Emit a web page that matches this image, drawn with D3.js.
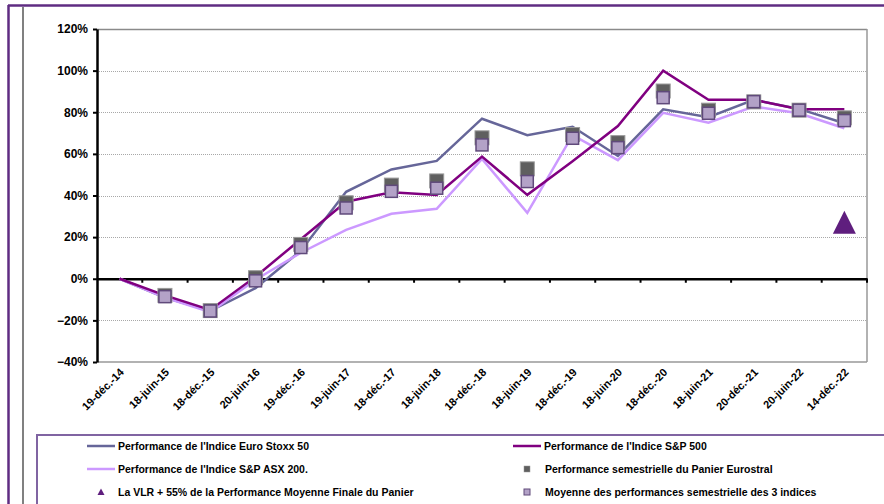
<!DOCTYPE html>
<html><head><meta charset="utf-8">
<script src="https://cdn.jsdelivr.net/npm/d3@7"></script>
<style>body{margin:0;background:#fff;}svg{display:block;font-family:"Liberation Sans",Arial,sans-serif;font-weight:bold;}</style>
</head><body><svg id="c" width="884" height="504"></svg>
<script>
const dates = ["19-déc.-14","18-juin-15","18-déc.-15","20-juin-16","19-déc.-16","19-juin-17","18-déc.-17","18-juin-18","18-déc.-18","18-juin-19","18-déc.-19","18-juin-20","18-déc.-20","18-juin-21","20-déc.-21","20-juin-22","14-déc.-22"];
const euroStoxx = [0,-0.09,-0.155,-0.045,0.135,0.418,0.525,0.566,0.769,0.69,0.73,0.59,0.814,0.776,0.86,0.816,0.747];
const sp500     = [0,-0.08,-0.15,0.01,0.19,0.37,0.416,0.403,0.587,0.403,0.565,0.734,1.0,0.86,0.86,0.815,0.815];
const asx200    = [0,-0.09,-0.16,-0.005,0.125,0.235,0.312,0.336,0.576,0.317,0.69,0.57,0.797,0.75,0.827,0.795,0.723];
const panier    = [null,-0.08,-0.153,0.005,0.165,0.365,0.45,0.47,0.677,0.528,0.693,0.654,0.902,0.81,0.85,0.81,0.773];
const moyenne   = [null,-0.086,-0.155,-0.01,0.15,0.34,0.42,0.435,0.643,0.467,0.675,0.63,0.87,0.795,0.851,0.81,0.76];
const vlr       = [{date:"14-déc.-22", value:0.271}];
const yTicks = [-0.4,-0.2,0,0.2,0.4,0.6,0.8,1.0,1.2];
const legendLabels = ["Performance de l'Indice Euro Stoxx 50","Performance de l'Indice S&P 500","Performance de l'Indice S&P ASX 200.","Performance semestrielle du Panier Eurostral","La VLR + 55% de la Performance Moyenne Finale du Panier","Moyenne des performances semestrielle des 3 indices"];

const svg = d3.select("#c");
const L=97,R=867,T=29,B=362;
const x = d3.scaleBand().domain(dates).range([L,R]);
const cx = d => x(d)+x.bandwidth()/2;
const y = d3.scaleLinear().domain([-0.4,1.2]).range([B,T]);

// outer frame
svg.append("line").attr("x1",8).attr("x2",884).attr("y1",5.5).attr("y2",5.5).attr("stroke","#5F2C82").attr("stroke-width",2.5);
svg.append("line").attr("x1",8.5).attr("x2",8.5).attr("y1",5).attr("y2",504).attr("stroke","#5F2C82").attr("stroke-width",2.5);
svg.append("line").attr("x1",23).attr("x2",23).attr("y1",7).attr("y2",504).attr("stroke","#808080").attr("stroke-width",2);

// gridlines
yTicks.forEach(t=>{
  if(t===0||t===-0.4) return;
  svg.append("line").attr("x1",L).attr("x2",R).attr("y1",Math.round(y(t))+0.5).attr("y2",Math.round(y(t))+0.5)
    .attr("stroke", t===1.2?"#8a8a8a":"#a8a8a8").attr("stroke-width",t===1.2?1.5:1).attr("stroke-dasharray",t===1.2?null:"1,1");
});
// plot border right/bottom
svg.append("line").attr("x1",R).attr("x2",R).attr("y1",T).attr("y2",B).attr("stroke","#999").attr("stroke-width",1.5);
svg.append("line").attr("x1",L).attr("x2",R).attr("y1",B).attr("y2",B).attr("stroke","#999").attr("stroke-width",1.5);

// y axis
const yAxis = d3.axisLeft(y).tickValues(yTicks).tickFormat(d3.format(".0%")).tickSize(4).tickSizeOuter(0);
const ya = svg.append("g").attr("transform",`translate(${L},0)`).call(yAxis);
ya.select(".domain").attr("stroke","#000").attr("stroke-width",2.5);
ya.selectAll(".tick line").attr("stroke","#000").attr("stroke-width",2);
ya.selectAll("text").attr("font-size","12px").attr("font-family","Liberation Sans, Arial, sans-serif").attr("font-weight","bold").attr("fill","#000").attr("x",-9);

// zero line with band ticks
const xAxis = d3.axisBottom(x).tickSize(0).tickFormat("");
const xa = svg.append("g").attr("transform",`translate(0,${y(0)})`).call(xAxis);
xa.select(".domain").attr("stroke","#000").attr("stroke-width",2.5);
xa.selectAll(".tick").remove();
const bounds = d3.range(1,dates.length+1).map(i=>L+i*x.step());
svg.append("g").selectAll("line").data(bounds).join("line")
  .attr("x1",d=>d).attr("x2",d=>d).attr("y1",y(0)).attr("y2",y(0)+4).attr("stroke","#000").attr("stroke-width",2);

// x labels
svg.append("g").selectAll("text").data(dates).join("text")
  .attr("transform",d=>`translate(${cx(d)+5},${B+11}) rotate(-45)`)
  .attr("text-anchor","end").attr("font-size","11px").attr("fill","#000").text(d=>d);

// lines
const line = d3.line().x((d,i)=>cx(dates[i])).y(d=>y(d));
[[euroStoxx,"#666699"],[asx200,"#CC99FF"],[sp500,"#800080"]].forEach(([s,c])=>{
  svg.append("path").attr("d",line(s)).attr("fill","none").attr("stroke",c).attr("stroke-width",2.5).attr("stroke-linejoin","miter");
});
// dark squares
svg.append("g").selectAll("rect").data(panier.map((v,i)=>({v,d:dates[i]})).filter(p=>p.v!==null)).join("rect")
  .attr("x",p=>cx(p.d)-7).attr("y",p=>y(p.v)-7).attr("width",14).attr("height",14)
  .attr("fill","#5F5F5F").attr("stroke","#9a9a9a").attr("stroke-width",1);
// light squares
svg.append("g").selectAll("rect").data(moyenne.map((v,i)=>({v,d:dates[i]})).filter(p=>p.v!==null)).join("rect")
  .attr("x",p=>cx(p.d)-6).attr("y",p=>y(p.v)-6).attr("width",12).attr("height",12)
  .attr("fill","#B3A2C7").attr("stroke","#604A7B").attr("stroke-width",1.5);
// triangle
svg.append("g").selectAll("path").data(vlr).join("path")
  .attr("transform",p=>`translate(${cx(p.date)},${y(p.value)})`)
  .attr("d","M0,-11.5L11.5,11.5L-11.5,11.5Z").attr("fill","#5F1E7E");

// legend
const lg = svg.append("g");
lg.append("path").attr("d","M37,504V435H884").attr("fill","none").attr("stroke","#8064A2").attr("stroke-width",2);
const rows=[446,469,492];
function lineItem(x0,yy,c,txt){
  lg.append("line").attr("x1",x0).attr("x2",x0+28).attr("y1",yy).attr("y2",yy).attr("stroke",c).attr("stroke-width",2.5);
  lg.append("text").attr("x",x0+31).attr("y",yy+3.5).attr("font-size","10.5px").attr("fill","#000").text(txt);
}
lineItem(87,rows[0],"#666699",legendLabels[0]);
lineItem(513,rows[0],"#800080",legendLabels[1]);
lineItem(87,rows[1],"#CC99FF",legendLabels[2]);
lg.append("rect").attr("x",524).attr("y",rows[1]-3).attr("width",6).attr("height",6).attr("fill","#5F5F5F").attr("stroke","#999").attr("stroke-width",0.5);
lg.append("text").attr("x",545).attr("y",rows[1]+3.5).attr("font-size","10.5px").attr("fill","#000").text(legendLabels[3]);
lg.append("path").attr("transform",`translate(101,${rows[2]})`).attr("d","M0,-3.5L3.5,3L-3.5,3Z").attr("fill","#5F1E7E");
lg.append("text").attr("x",118).attr("y",rows[2]+3.5).attr("font-size","10.5px").attr("fill","#000").text(legendLabels[4]);
lg.append("rect").attr("x",524).attr("y",rows[2]-3).attr("width",6).attr("height",6).attr("fill","#B3A2C7").attr("stroke","#604A7B").attr("stroke-width",1);
lg.append("text").attr("x",545).attr("y",rows[2]+3.5).attr("font-size","10.5px").attr("fill","#000").text(legendLabels[5]);
</script></body></html>
